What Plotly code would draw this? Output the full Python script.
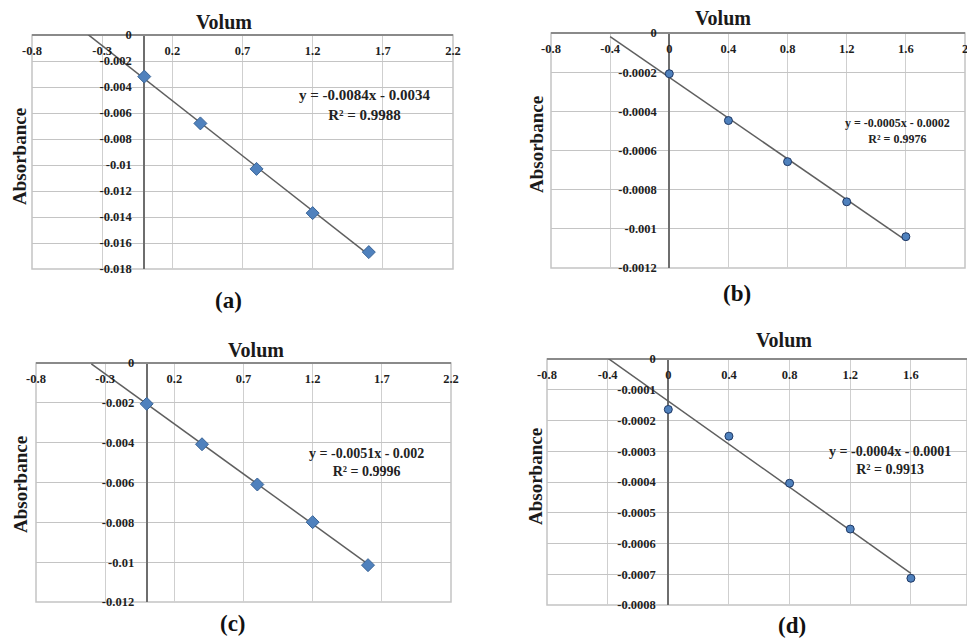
import numpy as np
import plotly.graph_objects as go

# ---------------- data ----------------
volume = [0, 0.4, 0.8, 1.2, 1.6]
absorbance_a = [-0.0032, -0.0068, -0.0103, -0.0137, -0.0167]
absorbance_b = [-0.000208, -0.000447, -0.000657, -0.000862, -0.00104]
absorbance_c = [-0.00205, -0.00408, -0.0061, -0.00799, -0.01015]
absorbance_d = [-0.000164, -0.000251, -0.000404, -0.000553, -0.000713]

equation_a = "y = -0.0084x - 0.0034"
equation_b = "y = -0.0005x - 0.0002"
equation_c = "y = -0.0051x - 0.002"
equation_d = "y = -0.0004x - 0.0001"
r2_a = "R² = 0.9988"
r2_b = "R² = 0.9976"
r2_c = "R² = 0.9996"
r2_d = "R² = 0.9913"
captions = ["(a)", "(b)", "(c)", "(d)"]
x_title = "Volum"
y_title = "Absorbance"

xticks_ac = [-0.8, -0.3, 0.2, 0.7, 1.2, 1.7, 2.2]
xticks_ac_text = ["-0.8", "-0.3", "0.2", "0.7", "1.2", "1.7", "2.2"]
xticks_bd = [-0.8, -0.4, 0, 0.4, 0.8, 1.2, 1.6, 2.0]
xticks_bd_text = ["-0.8", "-0.4", "0", "0.4", "0.8", "1.2", "1.6", "2"]
yticks_a = [0, -0.002, -0.004, -0.006, -0.008, -0.01, -0.012, -0.014, -0.016, -0.018]
yticks_a_text = ["0", "-0.002", "-0.004", "-0.006", "-0.008", "-0.01", "-0.012", "-0.014", "-0.016", "-0.018"]
yticks_b = [0, -0.0002, -0.0004, -0.0006, -0.0008, -0.001, -0.0012]
yticks_b_text = ["0", "-0.0002", "-0.0004", "-0.0006", "-0.0008", "-0.001", "-0.0012"]
yticks_c = [0, -0.002, -0.004, -0.006, -0.008, -0.01, -0.012]
yticks_c_text = ["0", "-0.002", "-0.004", "-0.006", "-0.008", "-0.01", "-0.012"]
yticks_d = [0, -0.0001, -0.0002, -0.0003, -0.0004, -0.0005, -0.0006, -0.0007, -0.0008]
yticks_d_text = ["0", "-0.0001", "-0.0002", "-0.0003", "-0.0004", "-0.0005", "-0.0006", "-0.0007", "-0.0008"]

trend_backcast = 0.4  # Excel trendline "backward forecast"

# ---------------- layout config ----------------
W, H = 967, 641
def px(x): return x / W
def py(y): return 1 - y / H

FONT = "Liberation Serif"
MARKER_FILL = "#4F81BD"

panels = [
    dict(y=absorbance_a, eq=equation_a, r2=r2_a, cap=captions[0], symbol="diamond", msize=10,
         mline="#3A6496", xr=[-0.8, 2.2], yr=[-0.018, 0],
         xt=xticks_ac, xtt=xticks_ac_text, yt=yticks_a, ytt=yticks_a_text,
         box=(32, 453, 35, 269), title=(224, 22), ylab=(19, 157), capxy=(228, 300),
         eqxy=(365, 105), eqsize=15),
    dict(y=absorbance_b, eq=equation_b, r2=r2_b, cap=captions[1], symbol="circle", msize=8,
         mline="#1F3864", xr=[-0.8, 2.0], yr=[-0.0012, 0],
         xt=xticks_bd, xtt=xticks_bd_text, yt=yticks_b, ytt=yticks_b_text,
         box=(551, 965, 33, 268), title=(723, 18), ylab=(537, 145), capxy=(737, 293),
         eqxy=(897, 131), eqsize=12),
    dict(y=absorbance_c, eq=equation_c, r2=r2_c, cap=captions[2], symbol="diamond", msize=10,
         mline="#3A6496", xr=[-0.8, 2.2], yr=[-0.012, 0],
         xt=xticks_ac, xtt=xticks_ac_text, yt=yticks_c, ytt=yticks_c_text,
         box=(36, 451, 363, 602), title=(256, 350), ylab=(20, 485), capxy=(233, 623),
         eqxy=(366, 463), eqsize=14),
    dict(y=absorbance_d, eq=equation_d, r2=r2_d, cap=captions[3], symbol="circle", msize=8,
         mline="#1F3864", xr=[-0.8, 1.97], yr=[-0.0008, 0],
         xt=xticks_bd, xtt=xticks_bd_text, yt=yticks_d, ytt=yticks_d_text,
         box=(547, 967, 359, 605), title=(784, 340), ylab=(535, 477), capxy=(792, 625),
         eqxy=(890, 460), eqsize=14),
]

fig = go.Figure()
annotations = []
shapes = []

for i, p in enumerate(panels, start=1):
    sfx = "" if i == 1 else str(i)
    xa, ya = "x" + sfx, "y" + sfx

    # trendline from least squares fit, extended backwards
    slope, icpt = np.polyfit(volume, p["y"], 1)
    tx = np.array([min(volume) - trend_backcast, max(volume)])
    fig.add_trace(go.Scatter(x=tx, y=slope * tx + icpt, mode="lines",
                             line=dict(color="#5f5f5f", width=1.5),
                             xaxis=xa, yaxis=ya, showlegend=False, hoverinfo="skip"))
    fig.add_trace(go.Scatter(x=volume, y=p["y"], mode="markers",
                             marker=dict(symbol=p["symbol"], size=p["msize"], color=MARKER_FILL,
                                         line=dict(color=p["mline"], width=1)),
                             xaxis=xa, yaxis=ya, showlegend=False))

    x0, x1, y0, y1 = p["box"]
    xdom = [px(x0), min(px(x1), 1.0)]
    ydom = [py(y1), py(y0)]
    # paper position where x = 0 (the Excel value axis crosses there)
    ypos = xdom[0] + (0 - p["xr"][0]) / (p["xr"][1] - p["xr"][0]) * (xdom[1] - xdom[0])

    tickfont = dict(family=FONT, size=12.5, color="#1e1e1e", weight="bold")
    fig.update_layout(**{
        "xaxis" + sfx: dict(domain=xdom, range=p["xr"], anchor=ya, side="top",
                            tickvals=p["xt"], ticktext=p["xtt"], ticklabelposition="inside",
                            ticklabeloverflow="allow", automargin=False,
                            ticks="inside", ticklen=11, tickcolor="rgba(0,0,0,0)",
                            showgrid=True, gridcolor="#cfcfcf", gridwidth=1,
                            zeroline=True, zerolinecolor="#6e6e6e", zerolinewidth=2,
                            showline=False, tickfont=tickfont, fixedrange=True),
        "yaxis" + sfx: dict(domain=ydom, range=p["yr"], anchor="free", position=ypos,
                            side="left", ticklabeloverflow="allow", automargin=False,
                            tickvals=p["yt"], ticktext=p["ytt"],
                            ticks="outside", ticklen=10, tickcolor="rgba(0,0,0,0)",
                            showgrid=True, gridcolor="#c4c4c4", gridwidth=1,
                            zeroline=True, zerolinecolor="#8a8a8a", zerolinewidth=2,
                            showline=False, tickfont=tickfont, fixedrange=True),
    })

    shapes.append(dict(type="rect", xref=xa + " domain", yref=ya + " domain",
                       x0=0, x1=1, y0=0, y1=1, line=dict(color="#c4c4c4", width=1.5),
                       layer="below"))

    annotations.append(dict(text="<b>" + x_title + "</b>", x=px(p["title"][0]), y=py(p["title"][1]),
                            xref="paper", yref="paper", showarrow=False,
                            xanchor="center", yanchor="middle",
                            font=dict(family=FONT, size=20, color="#1a1a1a")))
    annotations.append(dict(text="<b>" + y_title + "</b>", x=px(p["ylab"][0]), y=py(p["ylab"][1]),
                            xref="paper", yref="paper", showarrow=False, textangle=-90,
                            xanchor="center", yanchor="middle",
                            font=dict(family=FONT, size=19, color="#1a1a1a")))
    annotations.append(dict(text="<b>" + p["cap"] + "</b>", x=px(p["capxy"][0]), y=py(p["capxy"][1]),
                            xref="paper", yref="paper", showarrow=False,
                            xanchor="center", yanchor="middle",
                            font=dict(family=FONT, size=23, color="#111111")))
    annotations.append(dict(text="<b>" + p["eq"] + "<br>" + p["r2"] + "</b>",
                            x=px(p["eqxy"][0]), y=py(p["eqxy"][1]),
                            xref="paper", yref="paper", showarrow=False, align="center",
                            xanchor="center", yanchor="middle",
                            font=dict(family=FONT, size=p["eqsize"], color="#222222")))

fig.update_layout(width=W, height=H, margin=dict(l=0, r=0, t=0, b=0, autoexpand=False),
                  paper_bgcolor="white", plot_bgcolor="white",
                  annotations=annotations, shapes=shapes, showlegend=False)

fig.write_html("out.html", config={"displayModeBar": False},
               post_script="document.body.style.margin='0';document.body.style.overflow='hidden';")
